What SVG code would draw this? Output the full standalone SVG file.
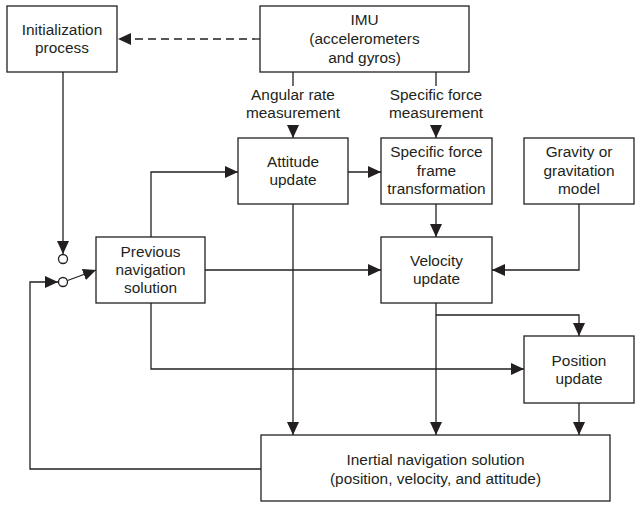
<svg xmlns="http://www.w3.org/2000/svg" width="637" height="506" viewBox="0 0 637 506">
<style>
.box{fill:#fff;stroke:#231f20;stroke-width:1.3}
.t{font-family:"Liberation Sans",Arial,sans-serif;font-size:15.4px;fill:#231f20;text-anchor:middle}
.c{fill:none;stroke:#231f20;stroke-width:1.3}
.a{marker-end:url(#ah)}
</style>
<defs>
<marker id="ah" markerUnits="userSpaceOnUse" markerWidth="13" markerHeight="12" refX="13" refY="6" orient="auto">
<path d="M0,0 L13,6 L0,12 z" fill="#231f20"/>
</marker>
</defs>
<rect width="637" height="506" fill="#fff"/>
<g id="connectors">
<path class="c a" d="M260,39 H118" stroke-dasharray="8,5"/>
<path class="c" d="M293,72 V86"/>
<path class="c a" d="M293,125 V138"/>
<path class="c" d="M436,72 V86"/>
<path class="c a" d="M436,125 V138"/>
<path class="c a" d="M348,172 H381"/>
<path class="c a" d="M436,204 V237"/>
<path class="c a" d="M151,237 V172 H238"/>
<path class="c a" d="M205,270 H381"/>
<path class="c a" d="M579,204 V270 H492"/>
<path class="c a" d="M293,204 V435"/>
<path class="c a" d="M436,303 V435"/>
<path class="c a" d="M436,315 H579 V336"/>
<path class="c a" d="M579,403 V435"/>
<path class="c a" d="M151,303 V369 H524"/>
<path class="c a" d="M261,469 H30 V282 H58"/>
<path class="c a" d="M63,72 V254"/>
<path class="c a" d="M67.5,280.5 L96,270"/>
<circle class="c" cx="63" cy="259" r="4.5"/>
<circle class="c" cx="63" cy="282" r="4.5"/>
</g>
<g id="init">
<rect class="box" x="7" y="6" width="110" height="66"/>
<text class="t" x="62" y="35">Initialization</text>
<text class="t" x="62" y="53">process</text>
</g>
<g id="imu">
<rect class="box" x="260" y="6" width="209" height="66"/>
<text class="t" x="364.5" y="25">IMU</text>
<text class="t" x="364.5" y="44">(accelerometers</text>
<text class="t" x="364.5" y="63">and gyros)</text>
</g>
<g id="angular-label">
<text class="t" x="293" y="100">Angular rate</text>
<text class="t" x="293" y="118">measurement</text>
</g>
<g id="force-label">
<text class="t" x="436" y="100">Specific force</text>
<text class="t" x="436" y="118">measurement</text>
</g>
<g id="attitude">
<rect class="box" x="238" y="138" width="110" height="66"/>
<text class="t" x="293" y="167">Attitude</text>
<text class="t" x="293" y="185">update</text>
</g>
<g id="sftrans">
<rect class="box" x="381" y="138" width="111" height="66"/>
<text class="t" x="436.5" y="157">Specific force</text>
<text class="t" x="436.5" y="175.5">frame</text>
<text class="t" x="436.5" y="194">transformation</text>
</g>
<g id="gravity">
<rect class="box" x="524" y="138" width="110" height="66"/>
<text class="t" x="579" y="157">Gravity or</text>
<text class="t" x="579" y="175.5">gravitation</text>
<text class="t" x="579" y="194">model</text>
</g>
<g id="prevnav">
<rect class="box" x="96" y="237" width="109" height="66"/>
<text class="t" x="150.5" y="257">Previous</text>
<text class="t" x="150.5" y="275">navigation</text>
<text class="t" x="150.5" y="293">solution</text>
</g>
<g id="velocity">
<rect class="box" x="381" y="237" width="111" height="66"/>
<text class="t" x="436.5" y="266">Velocity</text>
<text class="t" x="436.5" y="284">update</text>
</g>
<g id="position">
<rect class="box" x="524" y="336" width="110" height="67"/>
<text class="t" x="579" y="366">Position</text>
<text class="t" x="579" y="384">update</text>
</g>
<g id="inertial">
<rect class="box" x="261" y="435" width="349" height="66"/>
<text class="t" x="435.5" y="465">Inertial navigation solution</text>
<text class="t" x="435.5" y="484">(position, velocity, and attitude)</text>
</g>
</svg>
